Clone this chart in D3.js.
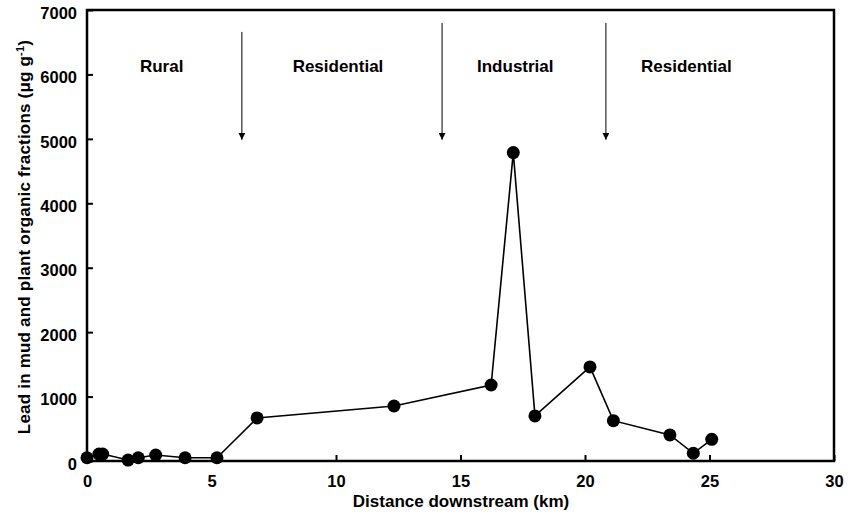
<!DOCTYPE html>
<html lang="en">
<head>
<meta charset="utf-8">
<title>Lead downstream</title>
<script src="https://d3js.org/d3.v7.min.js"></script>
<style>
  body { margin: 0; background: #fff; }
  svg { font-family: "Liberation Sans", Arial, Helvetica, sans-serif; font-weight: bold; }
</style>
</head>
<body>
<svg width="859" height="515"></svg>
<script>
// distance downstream (km) and lead concentration (ug/g)
const distance = [0, 0.48, 0.63, 1.65, 2.06, 2.76, 3.94, 5.22, 6.83, 12.33, 16.23, 17.12, 17.99, 20.2, 21.14, 23.41, 24.35, 25.09];
const lead     = [50, 108, 108, 15, 50, 93, 50, 50, 668, 854, 1180, 4787, 700, 1460, 626, 404, 120, 337];

const xTicks = [0, 5, 10, 15, 20, 25, 30];
const yTicks = [0, 1000, 2000, 3000, 4000, 5000, 6000, 7000];

// zone boundaries (km) and zone labels
const arrowX   = [6.22, 14.26, 20.84];
const arrowTop = [6660, 6800, 6800];
const arrowEnd = 4985;
const zoneNames = ["Rural", "Residential", "Industrial", "Residential"];
const zoneX     = [3.0, 10.08, 17.2, 24.07];
const zoneY     = 6040;

const svg = d3.select("svg");
const mLeft = 87, mRight = 834, mTop = 10, mBottom = 461;

const x = d3.scaleLinear().domain([0, 30]).range([mLeft, mRight]);
const y = d3.scaleLinear().domain([0, 7000]).range([mBottom, mTop]);

// frame
svg.append("rect")
  .attr("x", mLeft).attr("y", mTop)
  .attr("width", mRight - mLeft).attr("height", mBottom - mTop)
  .attr("fill", "none").attr("stroke", "#000").attr("stroke-width", 2.5);

// axes with inward ticks
const xAxis = svg.append("g")
  .attr("transform", `translate(0,${mBottom})`)
  .call(d3.axisBottom(x).tickValues(xTicks).tickFormat(d3.format("d"))
    .tickSizeInner(-6).tickSizeOuter(0).tickPadding(14));
const yAxis = svg.append("g")
  .attr("transform", `translate(${mLeft},0)`)
  .call(d3.axisLeft(y).tickValues(yTicks).tickFormat(d3.format("d"))
    .tickSizeInner(-6).tickSizeOuter(0).tickPadding(10));

[xAxis, yAxis].forEach(g => {
  g.select(".domain").remove();
  g.selectAll(".tick line").attr("stroke", "#000").attr("stroke-width", 2);
  g.selectAll(".tick text")
    .attr("fill", "#000")
    .style("font-size", "16.5px")
    .style("font-weight", "bold")
    .style("font-family", "'Liberation Sans', Arial, sans-serif");
});
yAxis.selectAll(".tick text").attr("dy", "0.5em");

// axis titles
svg.append("text")
  .attr("x", 461).attr("y", 507)
  .attr("text-anchor", "middle")
  .style("font-size", "17px")
  .text("Distance downstream (km)");

const yt = svg.append("text")
  .attr("transform", "translate(30,237) rotate(-90)")
  .attr("text-anchor", "middle")
  .style("font-size", "17px")
  .style("letter-spacing", "0.2px");
yt.append("tspan").text("Lead in mud and plant organic fractions (\u03BCg g");
yt.append("tspan").attr("dy", "-6").style("font-size", "11px").text("-1");
yt.append("tspan").attr("dy", "6").text(")");

// zone arrows
svg.append("defs").append("marker")
  .attr("id", "head")
  .attr("viewBox", "0 0 10 10")
  .attr("refX", 10).attr("refY", 5)
  .attr("markerWidth", 7).attr("markerHeight", 7)
  .attr("markerUnits", "userSpaceOnUse")
  .attr("orient", "auto")
  .append("path").attr("d", "M0,0 L10,5 L0,10 Z").attr("fill", "#000");

svg.selectAll(".arrow")
  .data(arrowX)
  .join("line")
  .attr("class", "arrow")
  .attr("x1", d => x(d)).attr("x2", d => x(d))
  .attr("y1", (d, i) => y(arrowTop[i]))
  .attr("y2", y(arrowEnd))
  .attr("stroke", "#000").attr("stroke-width", 1)
  .attr("marker-end", "url(#head)");

svg.selectAll(".zone")
  .data(zoneNames)
  .join("text")
  .attr("class", "zone")
  .attr("x", (d, i) => x(zoneX[i]))
  .attr("y", y(zoneY))
  .attr("text-anchor", "middle")
  .style("font-size", "17px")
  .text(d => d);

// series
const pts = distance.map((d, i) => [d, lead[i]]);
svg.append("path")
  .datum(pts)
  .attr("fill", "none").attr("stroke", "#000").attr("stroke-width", 1.6)
  .attr("d", d3.line().x(d => x(d[0])).y(d => y(d[1])));

svg.selectAll(".pt")
  .data(pts)
  .join("circle")
  .attr("class", "pt")
  .attr("cx", d => x(d[0])).attr("cy", d => y(d[1]))
  .attr("r", 6.5)
  .attr("fill", "#000");
</script>
</body>
</html>
